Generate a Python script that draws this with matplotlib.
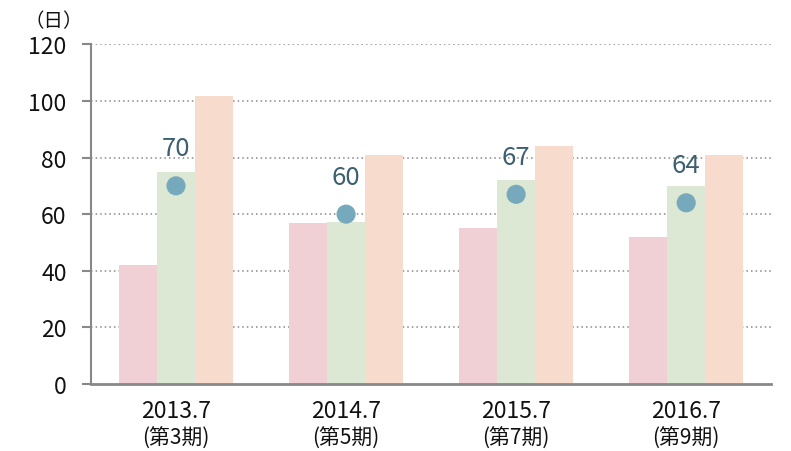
import matplotlib
matplotlib.use("Agg")
import matplotlib.pyplot as plt
from matplotlib.transforms import blended_transform_factory

plt.rcParams['font.family'] = ['Noto Sans CJK JP', 'DejaVu Sans']

years = ["2013.7", "2014.7", "2015.7", "2016.7"]
periods = ["(第3期)", "(第5期)", "(第7期)", "(第9期)"]
series_pink = [42, 56.8, 55, 52.1]
series_green = [74.8, 57.3, 72.2, 69.9]
series_peach = [101.6, 81, 84, 81]
dots = [70, 60, 67, 64]
yticks = [0, 20, 40, 60, 80, 100, 120]

fig = plt.figure(figsize=(7.91, 4.52), dpi=100)
ax = fig.add_axes([0.115, 0.148, 0.86, 0.752])

x = list(range(len(years)))
w = 0.2235
ax.bar([i - w for i in x], series_pink, width=w, color="#f0d0d5", zorder=2)
ax.bar(x, series_green, width=w, color="#dce8d3", zorder=2)
ax.bar([i + w for i in x], series_peach, width=w, color="#f7dccd", zorder=2)
ax.scatter(x, dots, s=190, color="#77a9bd", zorder=4, edgecolors="none")
for i, v in zip(x, dots):
    ax.annotate(str(v), (i, v), xytext=(0, 27), textcoords="offset points",
                ha="center", va="center", fontsize=18.5, color="#3d6070", zorder=5)

ax.set_xlim(-0.5, 3.5)
ax.set_ylim(0, 120)
ax.set_yticks(yticks)
ax.set_yticklabels([str(t) for t in yticks], fontsize=16.5, color="#111111")
for t in yticks[1:]:
    ax.axhline(t, color="#888888", linestyle=(0, (1, 2)), linewidth=1.1, zorder=1)

ax.set_xticks(x)
ax.set_xticklabels([])
ax.tick_params(axis="x", length=0)
ax.tick_params(axis="y", length=6.5, width=1.5, color="#888888", pad=11)

for s in ["top", "right"]:
    ax.spines[s].set_visible(False)
ax.spines["left"].set_color("#888888")
ax.spines["left"].set_linewidth(1.5)
ax.spines["bottom"].set_color("#888888")
ax.spines["bottom"].set_linewidth(2)

tr = blended_transform_factory(ax.transData, fig.transFigure)
for i, (yl, pl) in enumerate(zip(years, periods)):
    ax.text(i, 1 - 412 / 452, yl, transform=tr, ha="center", va="center",
            fontsize=16.5, color="#111111")
    ax.text(i, 1 - 438.5 / 452, pl, transform=tr, ha="center", va="center",
            fontsize=15, color="#111111")

fig.text(54 / 791, 1 - 22 / 452, "（日）", ha="center", va="center",
         fontsize=14, color="#111111")

fig.savefig("out.png", dpi=100)
